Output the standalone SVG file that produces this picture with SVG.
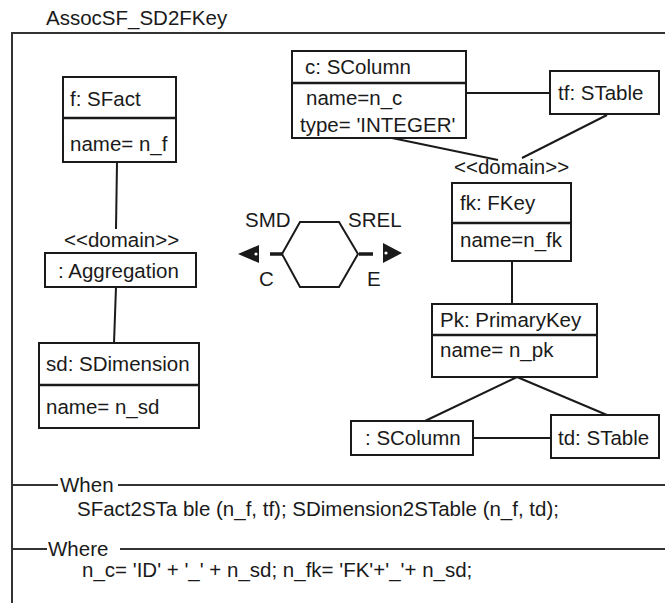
<svg xmlns="http://www.w3.org/2000/svg" width="665" height="603" viewBox="0 0 665 603">
<style>
text{font-family:"Liberation Sans",Arial,sans-serif;font-size:20.5px;fill:#1a1a1a}
.box{fill:#fff;stroke:#1a1a1a;stroke-width:2}
.div{stroke:#1a1a1a;stroke-width:2.5}
.ln{stroke:#1a1a1a;stroke-width:2;fill:none}
.fr{stroke:#333;stroke-width:2;fill:none}
</style>
<rect width="665" height="603" fill="#fff"/>
<g id="frame">
<text x="46" y="25">AssocSF_SD2FKey</text>
<path class="fr" d="M11 33H665M12 33V603"/>
<path class="fr" d="M12 485H58M118 485H665"/>
<text x="60" y="492">When</text>
<text x="77" y="516">SFact2STa ble (n_f, tf); SDimension2STable  (n_f, td);</text>
<path class="fr" d="M12 549H47M120 549H665"/>
<text x="48" y="556">Where</text>
<text x="82" y="577">n_c= 'ID' + '_' + n_sd; n_fk= 'FK'+'_'+ n_sd;</text>
</g>
<g id="connectors">
<line class="ln" x1="117" y1="162" x2="116" y2="229"/>
<line class="ln" x1="116" y1="287" x2="114" y2="343"/>
<line class="ln" x1="466" y1="93" x2="550" y2="93"/>
<line class="ln" x1="392" y1="138" x2="498" y2="160"/>
<line class="ln" x1="607" y1="115" x2="522" y2="158"/>
<line class="ln" x1="512" y1="261" x2="512" y2="304"/>
<line class="ln" x1="517" y1="377" x2="425" y2="421"/>
<line class="ln" x1="517" y1="377" x2="607" y2="415"/>
<line class="ln" x1="473" y1="438" x2="551" y2="438"/>
</g>
<g id="f">
<rect class="box" x="63" y="77" width="113" height="85"/>
<line class="div" x1="63" y1="118" x2="176" y2="118"/>
<text x="70" y="106">f: SFact</text>
<text x="70" y="151">name= n_f</text>
</g>
<g id="agg">
<text x="64" y="247">&lt;&lt;domain&gt;&gt;</text>
<rect class="box" x="45" y="253" width="151" height="34"/>
<text x="58" y="278">: Aggregation</text>
</g>
<g id="sd">
<rect class="box" x="39" y="343" width="160" height="85"/>
<line class="div" x1="39" y1="385" x2="199" y2="385"/>
<text x="46" y="371">sd: SDimension</text>
<text x="46" y="414">name= n_sd</text>
</g>
<g id="c">
<rect class="box" x="292" y="51" width="174" height="87"/>
<line class="div" x1="292" y1="83" x2="466" y2="83"/>
<text x="305" y="74">c: SColumn</text>
<text x="306" y="105">name=n_c</text>
<text x="300" y="132">type= 'INTEGER'</text>
</g>
<g id="tf">
<rect class="box" x="550" y="71" width="109" height="43"/>
<text x="558" y="100">tf: STable</text>
</g>
<g id="fk">
<text x="454" y="174">&lt;&lt;domain&gt;&gt;</text>
<rect class="box" x="452" y="183" width="119" height="78"/>
<line class="div" x1="452" y1="223" x2="571" y2="223"/>
<text x="460" y="210">fk: FKey</text>
<text x="460" y="247">name=n_fk</text>
</g>
<g id="pk">
<rect class="box" x="432" y="304" width="165" height="73"/>
<line class="div" x1="432" y1="335" x2="597" y2="335"/>
<text x="440" y="327">Pk: PrimaryKey</text>
<text x="440" y="357">name= n_pk</text>
</g>
<g id="scol">
<rect class="box" x="351" y="421" width="122" height="34"/>
<text x="365" y="445">: SColumn</text>
</g>
<g id="td">
<rect class="box" x="551" y="415" width="108" height="43"/>
<text x="558" y="445">td: STable</text>
</g>
<g id="op">
<polygon class="ln" points="282,254 300,222 339,222 358,254 339,287 300,287"/>
<text x="245" y="227">SMD</text>
<text x="348" y="227">SREL</text>
<text x="259" y="286">C</text>
<text x="367" y="286">E</text>
<line x1="270" y1="254" x2="282" y2="254" stroke="#1a1a1a" stroke-width="3.5"/>
<polygon points="238,254 259,245 259,263" fill="#1a1a1a"/>
<circle cx="256" cy="254" r="1.6" fill="#fff"/>
<line x1="359" y1="254" x2="373" y2="254" stroke="#1a1a1a" stroke-width="3.5"/>
<polygon points="402,253 383,243 383,263" fill="#1a1a1a"/>
<circle cx="386" cy="253" r="1.6" fill="#fff"/>
</g>
</svg>
